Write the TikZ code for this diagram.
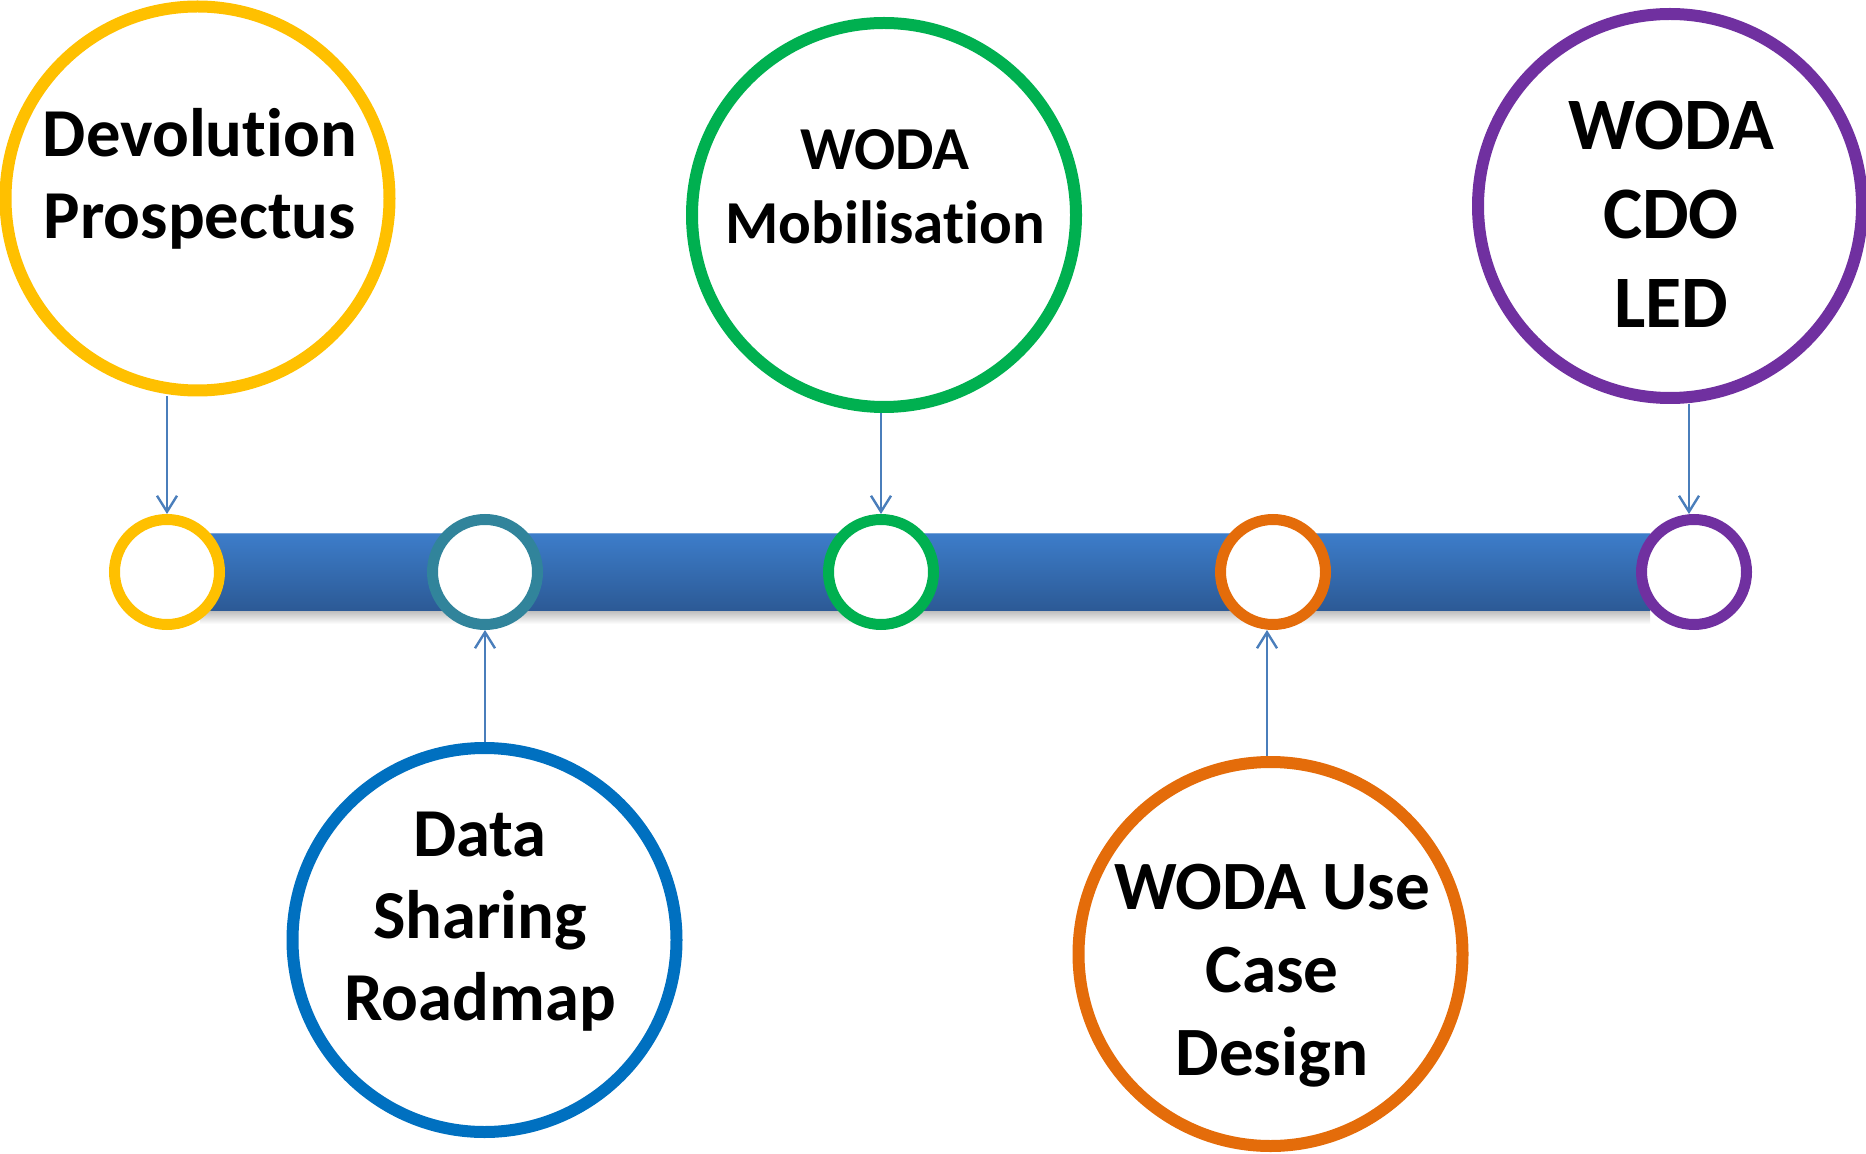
\documentclass[tikz,border=0pt]{standalone}
\usepackage{fontspec}
\setmainfont[Ligatures=NoCommon]{Carlito}
\usetikzlibrary{arrows.meta}
\definecolor{cyellow}{HTML}{FFC000}
\definecolor{cteal}{HTML}{31849B}
\definecolor{cgreen}{HTML}{00B050}
\definecolor{cblue}{HTML}{0070C0}
\definecolor{corange}{HTML}{E46C0A}
\definecolor{cpurple}{HTML}{7030A0}
\definecolor{carrow}{HTML}{4A7EBB}
\definecolor{bartop}{HTML}{3D7DCA}
\definecolor{barbot}{HTML}{2C5A96}
\tikzset{
  bigring/.style={circle, draw=#1, line width=6pt, fill=white, minimum size=192pt, inner sep=0pt},
  smallring/.style={circle, draw=#1, line width=5.5pt, fill=white, minimum size=52.5pt, inner sep=0pt},
  label text/.style={align=center, inner sep=0pt, anchor=base},
  link/.style={draw=carrow, line width=1.2pt, -{Straight Barb[length=8pt,width=10pt,line width=1.2pt]}}
}
\begin{document}
\begin{tikzpicture}[x=0.5pt,y=-0.5pt]
\useasboundingbox (0,0) rectangle (1866,1154);
% timeline bar with shadow
\shade[top color=gray!55, bottom color=white] (200,610) rectangle (1650,624);
\shade[top color=bartop, bottom color=barbot] (200,533) rectangle (1650,610);
\draw[color=bartop!70!white, line width=0.8pt] (200,533.5) -- (1650,533.5);
% small rings on the bar
\node[smallring=cyellow] (s1) at (167,572) {};
\node[smallring=cteal] (s2) at (485,572) {};
\node[smallring=cgreen] (s3) at (881,572) {};
\node[smallring=corange] (s4) at (1273,572) {};
\node[smallring=cpurple] (s5) at (1694,572) {};
% big rings
\node[bigring=cyellow] (b1) at (197.5,198.5) {};
\node[bigring=cblue] (b2) at (484.5,940) {};
\node[bigring=cgreen] (b3) at (884,215) {};
\node[bigring=corange] (b4) at (1270.5,954) {};
\node[bigring=cpurple] (b5) at (1670,206) {};
% texts (anchored at the baseline of their last line)
\node[label text, font=\bfseries\fontsize{34.3}{41}\selectfont] (t1) at (200,239) {Devolution\\Prospectus};
\node[label text, font=\bfseries\fontsize{34.3}{41}\selectfont] (t2) at (480,1020) {Data\\Sharing\\Roadmap};
\node[label text, font=\bfseries\fontsize{30.5}{37}\selectfont] (t3) at (885,244) {WODA\\Mobilisation};
\node[label text, font=\bfseries\fontsize{34.6}{41.5}\selectfont] (t4) at (1272,1075) {WODA Use\\Case\\Design};
\node[label text, font=\bfseries\fontsize{37}{44.5}\selectfont] (t5) at (1671,328) {WODA\\CDO\\LED};
% connectors
\draw[link] (s1 |- b1.south) -- (s1.north);
\draw[link] (s2 |- b2.north) -- (s2.south);
\draw[link] (s3 |- b3.south) -- (s3.north);
\draw[link] ([xshift=-3pt]s4.south |- b4.north) -- ([xshift=-3pt]s4.south);
\draw[link] ([xshift=-2.5pt]s5.north |- b5.south) -- ([xshift=-2.5pt]s5.north);
\end{tikzpicture}
\end{document}
